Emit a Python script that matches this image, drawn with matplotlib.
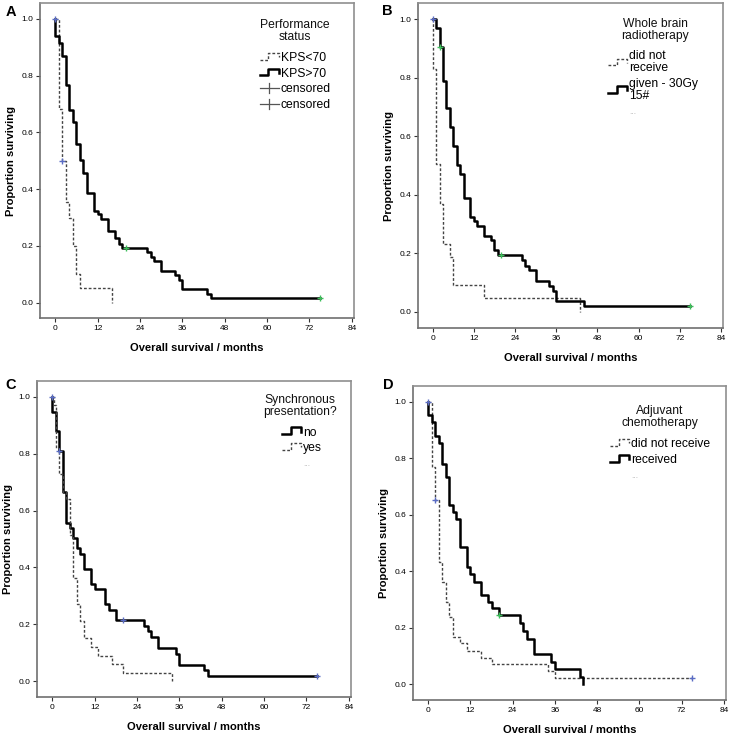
import matplotlib
matplotlib.use("Agg")
import matplotlib.pyplot as plt
from matplotlib.legend_handler import HandlerBase
from matplotlib.lines import Line2D

plt.rcParams["font.family"] = ["Liberation Sans", "DejaVu Sans"]

# ---- data (months, proportion surviving) ----
# A: performance status
a_low_t = [0, 1, 2, 3, 4, 5, 6, 7, 16]
a_low_s = [1.0, 0.684, 0.50, 0.354, 0.30, 0.20, 0.10, 0.05, 0.0]
a_high_t = [0, 0, 1, 2, 3, 4, 5, 6, 7, 8, 9, 11, 12, 13, 15, 17, 18, 19,
            26, 27, 28, 30, 34, 35, 36, 43, 44, 75]
a_high_s = [1.0, 0.941, 0.914, 0.87, 0.766, 0.679, 0.635, 0.559, 0.502, 0.458,
            0.385, 0.324, 0.311, 0.295, 0.251, 0.228, 0.208, 0.194,
            0.178, 0.162, 0.145, 0.113, 0.097, 0.081, 0.049, 0.032, 0.016, 0.016]
a_cens_blue = ([0, 2], [1.0, 0.50])
a_cens_green = ([20, 75], [0.194, 0.016])

# B: whole brain radiotherapy
b_no_t = [0, 0, 1, 2, 3, 5, 6, 15, 43]
b_no_s = [1.0, 0.829, 0.506, 0.37, 0.231, 0.186, 0.093, 0.048, 0.0]
b_yes_t = [0, 1, 2, 3, 4, 5, 6, 7, 8, 9, 11, 12, 13, 15, 17, 18, 19,
           26, 27, 28, 30, 34, 35, 36, 44, 75]
b_yes_s = [1.0, 0.968, 0.905, 0.79, 0.696, 0.631, 0.566, 0.503, 0.47, 0.39,
           0.325, 0.31, 0.293, 0.26, 0.246, 0.21, 0.195,
           0.177, 0.157, 0.144, 0.106, 0.089, 0.072, 0.036, 0.019, 0.019]
b_cens_blue = ([0], [1.0])
b_cens_green = ([2, 20, 75], [0.905, 0.195, 0.019])

# C: synchronous presentation
c_no_t = [0, 0, 1, 2, 3, 4, 5, 6, 7, 8, 9, 11, 12, 15, 16, 18,
          26, 27, 28, 30, 35, 36, 43, 44, 75]
c_no_s = [1.0, 0.946, 0.879, 0.808, 0.665, 0.556, 0.54, 0.502, 0.468, 0.449,
          0.394, 0.342, 0.323, 0.27, 0.25, 0.214,
          0.195, 0.177, 0.156, 0.117, 0.097, 0.059, 0.039, 0.019, 0.019]
c_yes_t = [0, 0.6, 1, 2, 3, 4, 5, 6, 7, 8, 9, 11, 13, 17, 20, 34]
c_yes_s = [1.0, 0.97, 0.82, 0.73, 0.665, 0.64, 0.515, 0.364, 0.271, 0.213,
           0.153, 0.121, 0.089, 0.06, 0.031, 0.0]
c_cens_blue = ([0, 2, 20, 75], [1.0, 0.808, 0.214, 0.019])
c_cens_green = ([], [])

# D: adjuvant chemotherapy
d_no_t = [0, 1, 2, 3, 4, 5, 6, 7, 9, 11, 15, 18, 34, 36, 75]
d_no_s = [1.0, 0.77, 0.652, 0.434, 0.363, 0.29, 0.24, 0.169, 0.145, 0.12,
          0.094, 0.071, 0.047, 0.024, 0.024]
d_yes_t = [0, 0, 1, 2, 3, 4, 5, 6, 7, 8, 9, 11, 12, 13, 15, 17, 18, 20,
           26, 27, 28, 30, 35, 36, 43, 44]
d_yes_s = [1.0, 0.953, 0.927, 0.88, 0.855, 0.781, 0.732, 0.634, 0.61, 0.585,
           0.487, 0.414, 0.389, 0.363, 0.316, 0.29, 0.269, 0.245,
           0.216, 0.189, 0.16, 0.108, 0.08, 0.054, 0.027, 0.0]
d_cens_blue = ([0, 2, 75], [1.0, 0.652, 0.024])
d_cens_green = ([20], [0.245])

x_ticks = [0, 12, 24, 36, 48, 60, 72, 84]
y_ticks = [0.0, 0.2, 0.4, 0.6, 0.8, 1.0]

SOLID = dict(color="black", lw=1.8, ls="-")
DASHED = dict(color="#444444", lw=1.0, ls=(0, (2, 1.4)))
BLUE = "#5a6cc4"
GREEN = "#3cbf5a"
LEG_FS = 8.7


class StepHandler(HandlerBase):
    # SPSS-style little step glyph in the legend
    def create_artists(self, legend, orig_handle, xdescent, ydescent,
                       width, height, fontsize, trans):
        x0, y0 = -xdescent, -ydescent
        xs = [x0, x0 + 0.45 * width, x0 + 0.45 * width, x0 + width, x0 + width]
        ys = [y0 + 0.15 * height, y0 + 0.15 * height, y0 + 0.95 * height,
              y0 + 0.95 * height, y0 + 0.45 * height]
        line = Line2D(xs, ys)
        line.update_from(orig_handle)
        line.set_transform(trans)
        return [line]


class CrossHandler(HandlerBase):
    def create_artists(self, legend, orig_handle, xdescent, ydescent,
                       width, height, fontsize, trans):
        x0, y0 = -xdescent, -ydescent
        h = Line2D([x0, x0 + width], [y0 + 0.5 * height] * 2, color="#555555", lw=0.9)
        v = Line2D([x0 + 0.5 * width] * 2, [y0 - 0.1 * height, y0 + 1.1 * height],
                   color="#555555", lw=0.9)
        for a in (h, v):
            a.set_transform(trans)
        return [h, v]


class BlankHandler(HandlerBase):
    def create_artists(self, legend, orig_handle, xdescent, ydescent,
                       width, height, fontsize, trans):
        empty = Line2D([], [], alpha=0)
        empty.set_transform(trans)
        return [empty]


def km_panel(ax, letter, letter_pos, first, second, blue, green, title, title_pos,
             labels, leg_pos, censored_rows):
    (t1, s1, st1), (t2, s2, st2) = first, second
    ax.step(t1, s1, where="post", **st1)
    ax.step(t2, s2, where="post", **st2)
    ax.plot(*blue, ls="none", marker="+", ms=5, mew=1.0, color=BLUE, zorder=5)
    ax.plot(*green, ls="none", marker="+", ms=5, mew=1.0, color=GREEN, zorder=5)

    ax.set_xlim(-4.3, 84.6)
    ax.set_ylim(-0.055, 1.055)
    ax.set_xticks(x_ticks)
    ax.set_yticks(y_ticks)
    ax.set_yticklabels([f"{v:.1f}" for v in y_ticks])
    ax.tick_params(direction="out", length=3, width=0.8, labelsize=6,
                   color="#333333", pad=2)
    for side in ["left", "bottom"]:
        ax.spines[side].set_color("#6f6f6f")
        ax.spines[side].set_linewidth(1.2)
    for side in ["top", "right"]:
        ax.spines[side].set_color("#8f8f8f")
        ax.spines[side].set_linewidth(1.2)
    ax.set_xlabel("Overall survival / months", fontsize=8, fontweight="bold", labelpad=8)
    ax.set_ylabel("Proportion surviving", fontsize=8, fontweight="bold", labelpad=4)
    ax.text(*letter_pos, letter, transform=ax.transAxes, fontsize=10.5,
            fontweight="bold", va="top", ha="left")

    # legend title drawn on its own, SPSS leaves a gap under it
    ax.text(*title_pos, title, transform=ax.transAxes, fontsize=LEG_FS,
            ha="center", va="top", linespacing=1.0, color="#111111")

    h1 = Line2D([], [], **st1)
    h2 = Line2D([], [], **st2)
    handles = [h1, h2]
    hmap = {h1: StepHandler(), h2: StepHandler()}
    if censored_rows:
        for _ in range(2):
            c = Line2D([], [])
            handles.append(c)
            hmap[c] = CrossHandler()
        labels = labels + ["censored", "censored"]
    else:
        blank = Line2D([], [])
        handles.append(blank)
        hmap[blank] = BlankHandler()
        labels = labels + ["..."]
    leg = ax.legend(handles, labels, handler_map=hmap,
                    loc="upper left", bbox_to_anchor=leg_pos, frameon=False,
                    fontsize=LEG_FS, handlelength=1.6,
                    handletextpad=0.15, labelspacing=0.3, borderpad=0,
                    borderaxespad=0)
    for txt in leg.get_texts():
        txt.set_linespacing(1.0)
    if not censored_rows:
        leg.get_texts()[-1].set_color("#b0b0b0")
        leg.get_texts()[-1].set_fontsize(6)


fig = plt.figure(figsize=(7.31, 7.35), dpi=100)
axA = fig.add_axes([0.0547, 0.567, 0.4295, 0.4286])
axB = fig.add_axes([0.5718, 0.5537, 0.4172, 0.4422])
axC = fig.add_axes([0.0506, 0.0517, 0.4295, 0.4299])
axD = fig.add_axes([0.565, 0.0476, 0.4282, 0.4272])

km_panel(axA, "A", (-0.108, 0.995), (a_low_t, a_low_s, DASHED), (a_high_t, a_high_s, SOLID),
         a_cens_blue, a_cens_green, "Performance\nstatus", (0.812, 0.95),
         ["KPS<70", "KPS>70"], (0.70, 0.845), True)
km_panel(axB, "B", (-0.118, 0.997), (b_no_t, b_no_s, DASHED), (b_yes_t, b_yes_s, SOLID),
         b_cens_blue, b_cens_green, "Whole brain\nradiotherapy", (0.777, 0.955),
         ["did not\nreceive", "given - 30Gy\n15#"], (0.623, 0.855), False)
km_panel(axC, "C", (-0.10, 1.01), (c_no_t, c_no_s, SOLID), (c_yes_t, c_yes_s, DASHED),
         c_cens_blue, c_cens_green, "Synchronous\npresentation?", (0.838, 0.958),
         ["no", "yes"], (0.78, 0.856), False)
km_panel(axD, "D", (-0.096, 1.025), (d_no_t, d_no_s, DASHED), (d_yes_t, d_yes_s, SOLID),
         d_cens_blue, d_cens_green, "Adjuvant\nchemotherapy", (0.789, 0.94),
         ["did not receive", "received"], (0.629, 0.834), False)

fig.savefig("out.png", dpi=100)
